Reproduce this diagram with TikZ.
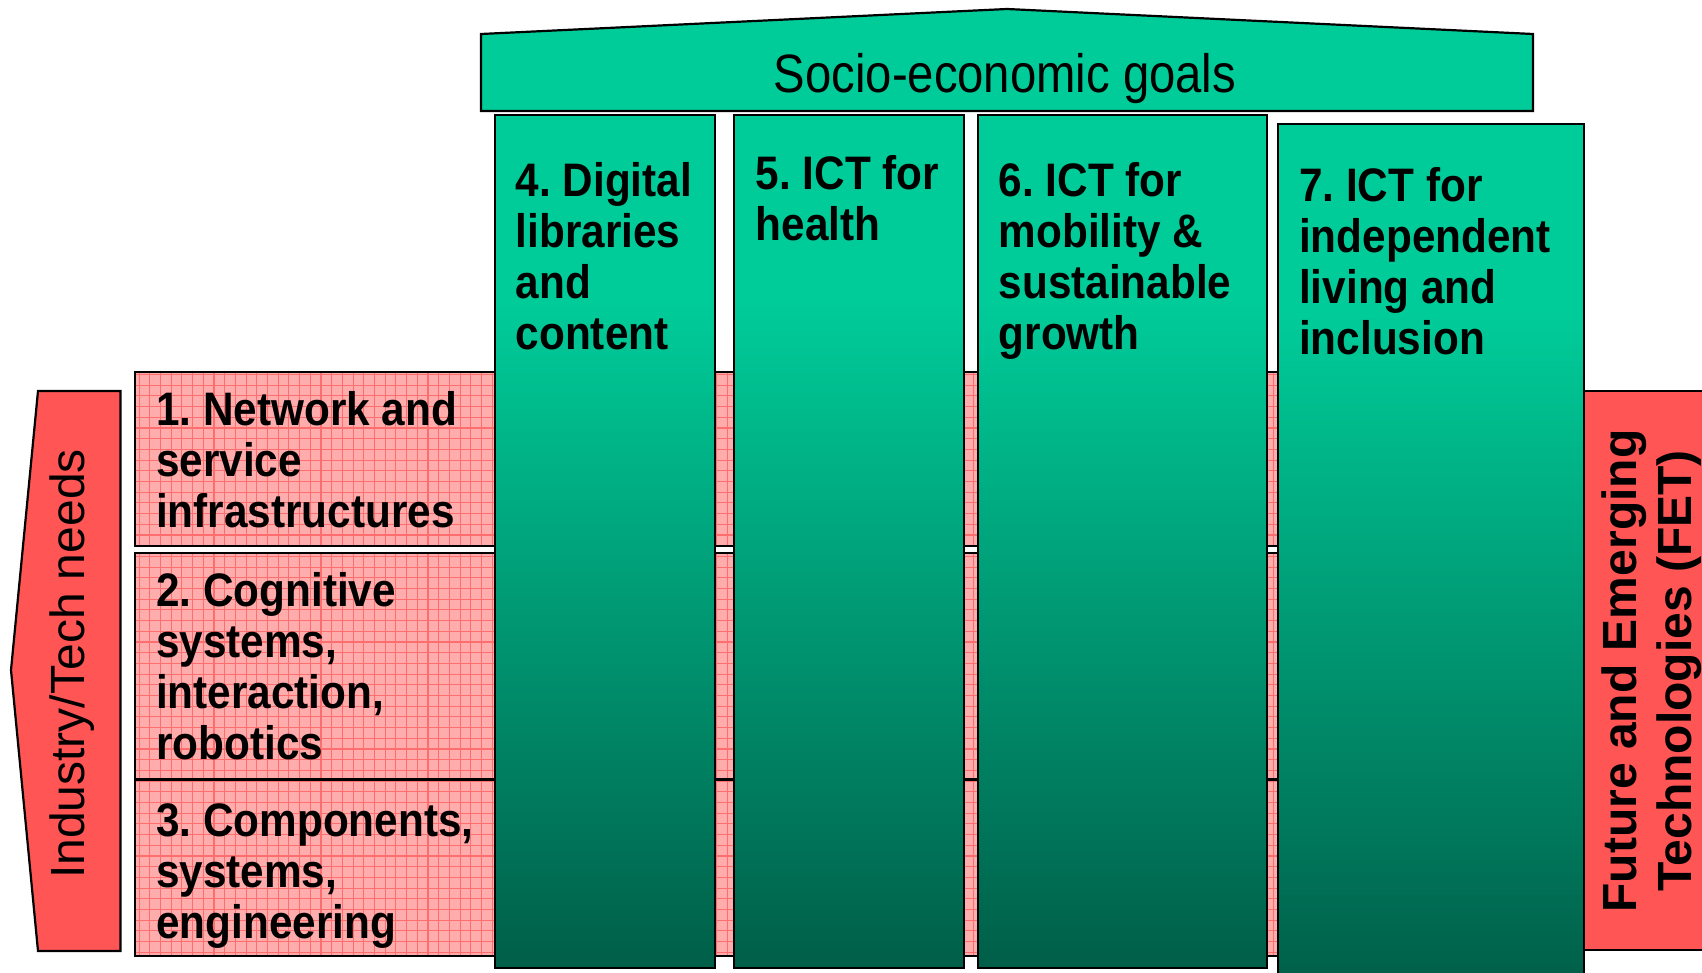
\documentclass[tikz,border=0pt]{standalone}
\usepackage{fontspec}
\setmainfont{Liberation Sans}
\usepackage{graphicx}
\frenchspacing

\definecolor{gtop}{RGB}{0,204,153}
\definecolor{gbot}{RGB}{0,94,72}
\definecolor{pinkfill}{RGB}{255,172,172}
\definecolor{pinkgrid}{RGB}{255,110,110}
\definecolor{redfill}{RGB}{255,85,85}

% pillar shading: flat green in the upper part, darkening towards the foot
\pgfdeclareverticalshading{pillarshade}{100bp}{color(0bp)=(gbot); color(25bp)=(gbot); color(64bp)=(gtop); color(100bp)=(gtop)}

% multi-line bold label, slightly condensed
\newcommand{\boldlines}[1]{\scalebox{0.9}[1]{\begin{tabular}[t]{@{}l@{}}#1\end{tabular}}}

\tikzset{
  outline/.style={draw=black, line width=2.2pt, line join=miter},
  pillar/.style={outline, shading=pillarshade},
  redbox/.style={outline, fill=redfill},
  pinkbox/.style={fill=pinkfill},
  pinkedge/.style={draw=black, line width=2.2pt},
  gridline/.style={draw=pinkgrid, line width=1.1pt},
  btext/.style={inner sep=0pt, anchor=base west, font=\fontsize{47}{51}\selectfont\bfseries},
  sidetext/.style={inner sep=0pt, anchor=base, rotate=90},
}

\begin{document}
\begin{tikzpicture}[x=1pt, y=-1pt]
  \useasboundingbox (0,0) rectangle (1702,973);
  \clip (0,0) rectangle (1702,973);
  \fill[white] (0,0) rectangle (1702,973);

  % technology rows: pink grid-textured bands
  \fill[pinkbox] (135,372) rectangle (1280,546);
  \fill[pinkbox] (135,553) rectangle (1280,779);
  \fill[pinkbox] (135,780) rectangle (1280,956);
  \begin{scope}
    \clip (135,372) rectangle (1280,546) (135,553) rectangle (1280,779) (135,780) rectangle (1280,956);
    \draw[gridline, step=10.7pt] (130,365) grid (1290,965);
  \end{scope}
  \draw[pinkedge] (135,372) rectangle (1280,546);
  \draw[pinkedge] (135,553) rectangle (1280,779);
  \draw[pinkedge] (135,780) rectangle (1280,956);

  \node[btext] (row1) at (156,425.5) {\boldlines{1. Network and\\service\\infrastructures}};
  \node[btext] (row2) at (156,606) {\boldlines{2. Cognitive\\systems,\\interaction,\\robotics}};
  \node[btext] (row3) at (156,836) {\boldlines{3. Components,\\systems,\\engineering}};

  % left arrow: industry / technology needs
  \draw[redbox] (38,391) -- (120.5,391) -- (120.5,951) -- (38,951) -- (11,670) -- cycle;
  \node[sidetext, font=\fontsize{48}{52}\selectfont] (needs) at (84,664) {Industry/Tech needs};

  % right band: FET
  \draw[redbox] (1584,391) rectangle (1730,950);
  \node[sidetext, font=\fontsize{48}{54}\selectfont\bfseries] (fet1) at (1636,671) {Future and Emerging};
  \node[sidetext, font=\fontsize{48}{54}\selectfont\bfseries] (fet2) at (1691,671) {Technologies (FET)};

  % application pillars
  \draw[pillar] (495,115) rectangle (715,968);
  \draw[pillar] (734,115) rectangle (964,968);
  \draw[pillar] (978,115) rectangle (1267,968);
  \draw[pillar] (1278,124) rectangle (1584,990);

  \node[btext] (p4) at (515.5,196.5) {\boldlines{4. Digital\\libraries\\and\\content}};
  \node[btext] (p5) at (755.5,190) {\boldlines{5. ICT for\\health}};
  \node[btext] (p6) at (998.5,196.5) {\boldlines{6. ICT for\\mobility \&\\sustainable\\growth}};
  \node[btext] (p7) at (1299,202) {\boldlines{7. ICT for\\independent\\living and\\inclusion}};

  % roof: socio-economic goals
  \draw[outline, fill=gtop] (481,111) -- (481,34) -- (1007,9) -- (1533,34) -- (1533,111) -- cycle;
  \node[inner sep=0pt, anchor=base, font=\fontsize{54}{60}\selectfont] (goals) at (1005,93) {\scalebox{0.875}[1]{Socio-economic goals}};
\end{tikzpicture}
\end{document}
